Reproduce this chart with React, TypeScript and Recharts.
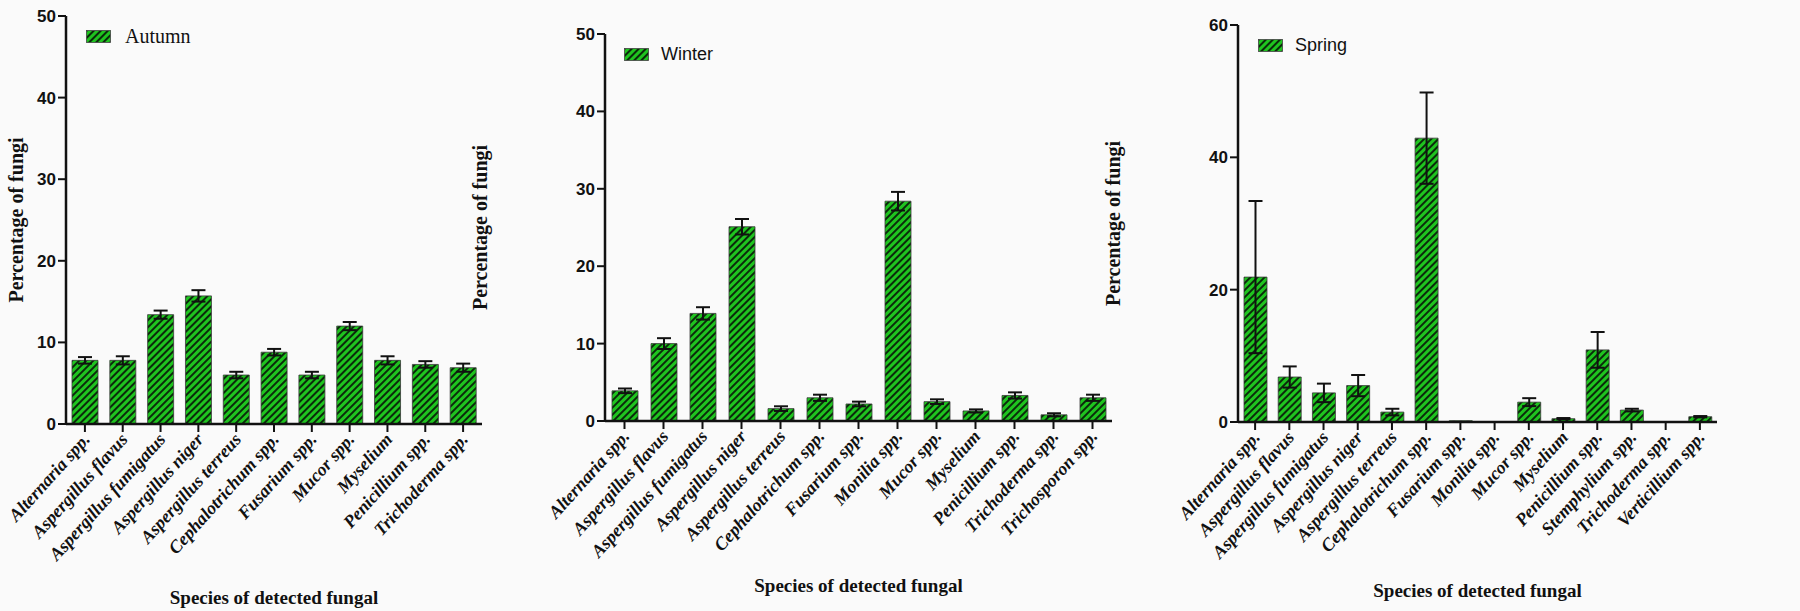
import React from 'react'
import { BarChart, Bar, XAxis, YAxis, ErrorBar, Legend } from 'recharts'

// Autumn
const autumnSpecies = [
  'Alternaria spp.', 'Aspergillus flavus', 'Aspergillus fumigatus', 'Aspergillus niger',
  'Aspergillus terreus', 'Cephalotrichum spp.', 'Fusarium spp.', 'Mucor spp.',
  'Myselium', 'Penicillium spp.', 'Trichoderma spp.',
]
const autumnValues = [7.8, 7.8, 13.4, 15.7, 6.0, 8.8, 6.0, 12.0, 7.8, 7.3, 6.9]
const autumnErrors = [0.4, 0.5, 0.5, 0.7, 0.4, 0.4, 0.4, 0.5, 0.5, 0.4, 0.5]

// Winter
const winterSpecies = [
  'Alternaria spp.', 'Aspergillus flavus', 'Aspergillus fumigatus', 'Aspergillus niger',
  'Aspergillus terreus', 'Cephalotrichum spp.', 'Fusarium spp.', 'Monilia spp.',
  'Mucor spp.', 'Myselium', 'Penicillium spp.', 'Trichoderma spp.', 'Trichosporon spp.',
]
const winterValues = [3.9, 10.0, 13.9, 25.1, 1.6, 3.0, 2.2, 28.4, 2.5, 1.3, 3.3, 0.8, 3.0]
const winterErrors = [0.3, 0.7, 0.8, 1.0, 0.3, 0.4, 0.3, 1.2, 0.3, 0.2, 0.4, 0.2, 0.4]

// Spring
const springSpecies = [
  'Alternaria spp.', 'Aspergillus flavus', 'Aspergillus fumigatus', 'Aspergillus niger',
  'Aspergillus terreus', 'Cephalotrichum spp.', 'Fusarium spp.', 'Monilia spp.',
  'Mucor spp.', 'Myselium', 'Penicillium spp.', 'Stemphylium spp.', 'Trichoderma spp.',
  'Verticillium spp.',
]
const springValues = [21.9, 6.8, 4.4, 5.5, 1.5, 42.9, 0.2, 0, 3.0, 0.5, 10.9, 1.8, 0, 0.8]
const springErrors = [11.5, 1.6, 1.4, 1.6, 0.5, 6.9, 0, 0, 0.6, 0.1, 2.7, 0.2, 0, 0.1]

const ticks50 = [0, 10, 20, 30, 40, 50]
const ticks60 = [0, 20, 40, 60]

const GREEN = '#1fc41f'
const STRIPE = '#0b2a0b'
const SERIF = '"Liberation Serif", "Times New Roman", serif'
const SANS = '"Liberation Sans", Arial, sans-serif'

const toRows = (names: string[], values: number[], errors: number[]) =>
  names.map((name, i) => ({ name, value: values[i], err: errors[i] }))

function Hatch({ id }: { id: string }) {
  return (
    <pattern id={id} width="5" height="5" patternUnits="userSpaceOnUse" patternTransform="rotate(45)">
      <rect width="5" height="5" fill={GREEN} />
      <line x1="1" y1="0" x2="1" y2="5" stroke={STRIPE} strokeWidth="2" />
    </pattern>
  )
}

function SpeciesTick({ x, y, payload }: any) {
  const ax = x + 6
  const ay = y + 6
  return (
    <text
      x={ax}
      y={ay}
      transform={`rotate(-48 ${ax} ${ay})`}
      textAnchor="end"
      fontFamily={SERIF}
      fontStyle="italic"
      fontWeight="bold"
      fontSize={18}
      fill="#111"
    >
      {payload.value}
    </text>
  )
}

function YTitle({ viewBox, left }: any) {
  const cy = viewBox ? viewBox.y + viewBox.height / 2 : 220
  return (
    <text
      x={left}
      y={cy}
      transform={`rotate(-90 ${left} ${cy})`}
      textAnchor="middle"
      dominantBaseline="central"
      fontFamily={SERIF}
      fontWeight="bold"
      fontSize={20}
      fill="#111"
    >
      Percentage of fungi
    </text>
  )
}

function XTitle({ viewBox, top }: any) {
  const cx = viewBox ? viewBox.x + viewBox.width / 2 : 0
  const cy = (viewBox ? viewBox.y : 0) + top
  return (
    <text
      x={cx}
      y={cy}
      textAnchor="middle"
      dominantBaseline="central"
      fontFamily={SERIF}
      fontWeight="bold"
      fontSize={19}
      fill="#111"
    >
      Species of detected fungal
    </text>
  )
}

function LegendBox({ label, font, size, gap }: any) {
  return (
    <div style={{ display: 'flex', alignItems: 'center', fontFamily: font, fontSize: size, color: '#111' }}>
      <svg width={25} height={13} style={{ marginRight: gap }}>
        <defs>
          <Hatch id={`lg-${label}`} />
        </defs>
        <rect x={0.5} y={0.5} width={24} height={12} fill={`url(#lg-${label})`} stroke="#444" strokeWidth={0.8} />
      </svg>
      <span>{label}</span>
    </div>
  )
}

interface PanelProps {
  id: string
  rows: { name: string; value: number; err: number }[]
  left: number
  width: number
  top: number
  bottom: number
  axisX: number
  rightPad: number
  max: number
  ticks: number[]
  barSize: number
  yTitleX: number
  xTitleY: number
  legend: { label: string; font: string; size: number; gap: number; left: number; top: number }
}

function Panel(p: PanelProps) {
  const H = 611
  return (
    <div style={{ position: 'absolute', left: p.left, top: 0 }}>
      <BarChart
        width={p.width}
        height={H}
        data={p.rows}
        margin={{ top: p.top, right: p.rightPad, bottom: 0, left: 0 }}
        barCategoryGap={0}
      >
        <defs>
          <Hatch id={`hatch-${p.id}`} />
        </defs>
        <XAxis
          dataKey="name"
          interval={0}
          height={H - p.bottom}
          tick={<SpeciesTick />}
          tickSize={8}
          tickMargin={2}
          stroke="#111"
          strokeWidth={2.5}
          tickLine={{ stroke: '#111', strokeWidth: 2 }}
          label={<XTitle top={p.xTitleY - p.bottom} />}
        />
        <YAxis
          width={p.axisX - p.left}
          domain={[0, p.max]}
          ticks={p.ticks}
          interval={0}
          allowDataOverflow
          tickSize={8}
          tickMargin={2}
          stroke="#111"
          strokeWidth={2.5}
          tickLine={{ stroke: '#111', strokeWidth: 2 }}
          tick={{ fill: '#111', fontFamily: SANS, fontWeight: 'bold', fontSize: 17 }}
          label={<YTitle left={p.yTitleX - p.left} />}
        />
        <Legend
          layout="vertical"
          align="center"
          verticalAlign="middle"
          wrapperStyle={{ position: 'absolute', left: p.legend.left - p.left, top: p.legend.top, width: 'auto' }}
          content={() => (
            <LegendBox label={p.legend.label} font={p.legend.font} size={p.legend.size} gap={p.legend.gap} />
          )}
        />
        <Bar
          dataKey="value"
          name={p.legend.label}
          barSize={p.barSize}
          fill={`url(#hatch-${p.id})`}
          stroke="#3a3a3a"
          strokeWidth={0.8}
          isAnimationActive={false}
        >
          <ErrorBar dataKey="err" direction="y" width={7} stroke="#111" strokeWidth={2} />
        </Bar>
      </BarChart>
    </div>
  )
}

export default function App() {
  return (
    <div
      style={{
        position: 'absolute',
        left: 0,
        top: 0,
        width: 1800,
        height: 611,
        background: '#fafafa',
        overflow: 'hidden',
      }}
    >
      <Panel
        id="autumn"
        rows={toRows(autumnSpecies, autumnValues, autumnErrors)}
        left={0}
        width={490}
        top={16}
        bottom={424}
        axisX={66}
        rightPad={8}
        max={50}
        ticks={ticks50}
        barSize={26}
        yTitleX={16}
        xTitleY={597}
        legend={{ label: 'Autumn', font: SERIF, size: 20, gap: 14, left: 86, top: 25 }}
      />
      <Panel
        id="winter"
        rows={toRows(winterSpecies, winterValues, winterErrors)}
        left={460}
        width={657}
        top={34}
        bottom={421}
        axisX={605}
        rightPad={5}
        max={50}
        ticks={ticks50}
        barSize={26}
        yTitleX={480}
        xTitleY={585}
        legend={{ label: 'Winter', font: SANS, size: 18, gap: 12, left: 624, top: 44 }}
      />
      <Panel
        id="spring"
        rows={toRows(springSpecies, springValues, springErrors)}
        left={1095}
        width={632}
        top={25}
        bottom={422}
        axisX={1238}
        rightPad={10}
        max={60}
        ticks={ticks60}
        barSize={23}
        yTitleX={1113}
        xTitleY={590}
        legend={{ label: 'Spring', font: SANS, size: 18, gap: 12, left: 1258, top: 35 }}
      />
    </div>
  )
}
